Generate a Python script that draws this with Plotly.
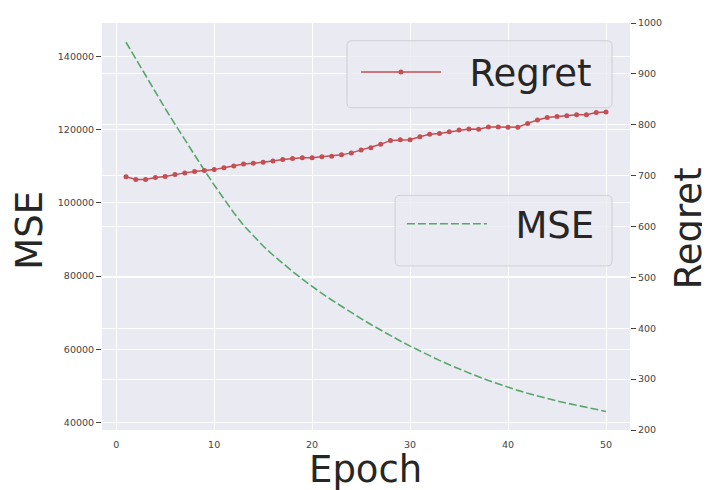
import plotly.graph_objects as go

epochs = list(range(1, 51))

mse = [143900, 139300, 134800, 130300, 125800, 121500, 117200, 113000, 108900, 104900,
       101000, 97300, 93900, 90900, 88200, 85750, 83450, 81250, 79150, 77150,
       75250, 73450, 71700, 70000, 68350, 66750, 65200, 63700, 62250, 60850,
       59500, 58200, 56950, 55750, 54600, 53500, 52450, 51450, 50500, 49600,
       48750, 47950, 47200, 46500, 45850, 45250, 44650, 44100, 43550, 43000]

regret = [697.7, 692.4, 692.4, 696.3, 698.3, 702.1, 705.4, 708.0, 709.9, 711.8,
          715.7, 719.0, 722.8, 724.2, 726.1, 728.6, 731.9, 733.8, 735.0, 735.0,
          737.0, 738.3, 740.8, 744.7, 750.5, 755.0, 761.5, 769.2, 770.5, 770.5,
          776.3, 781.4, 782.8, 786.0, 789.9, 791.8, 791.1, 795.7, 795.7, 795.0,
          795.0, 802.7, 809.3, 814.3, 816.2, 817.6, 819.5, 819.5, 824.0, 825.3]

x_ticks = [0, 10, 20, 30, 40, 50]
mse_ticks = [40000, 60000, 80000, 100000, 120000, 140000]
regret_ticks = [200, 300, 400, 500, 600, 700, 800, 900, 1000]

RED = "#C44E52"
GREEN = "#55A868"
BG = "#EAEAF2"
TXT = "#262626"
FONT = "DejaVu Sans"
NB = "\u00a0"

fig = go.Figure()
fig.add_trace(go.Scatter(
    x=epochs, y=mse, name=NB * 2 + "MSE" + NB, mode="lines",
    line=dict(color=GREEN, width=1.6, dash="8px,3px"),
    yaxis="y", legend="legend2"))
fig.add_trace(go.Scatter(
    x=epochs, y=regret, name=NB * 2 + "Regret" + NB, mode="lines+markers",
    line=dict(color=RED, width=1.5),
    marker=dict(color=RED, size=5),
    yaxis="y2", legend="legend"))

tickfont = dict(family=FONT, size=9.5, color="#444444")


def rounded_box(x0, y0, x1, y1, rx=0.0095, ry=0.0121):
    return (f"M{x0 + rx},{y0} L{x1 - rx},{y0} Q{x1},{y0} {x1},{y0 + ry} "
            f"L{x1},{y1 - ry} Q{x1},{y1} {x1 - rx},{y1} L{x0 + rx},{y1} "
            f"Q{x0},{y1} {x0},{y1 - ry} L{x0},{y0 + ry} Q{x0},{y0} {x0 + rx},{y0} Z")


box_style = dict(type="path", xref="paper", yref="paper", layer="above",
                 fillcolor="rgba(234,234,242,0.8)",
                 line=dict(color="rgba(204,204,210,0.9)", width=1))

legend_common = dict(xanchor="left", yanchor="top", bgcolor="rgba(0,0,0,0)",
                     borderwidth=0, itemwidth=80,
                     font=dict(family=FONT, size=37, color=TXT))

fig.update_layout(
    width=702, height=482,
    margin=dict(l=94, r=80, t=9, b=60),
    paper_bgcolor="white", plot_bgcolor=BG,
    font=dict(family=FONT, color=TXT),
    showlegend=True,
    xaxis=dict(range=[-1.45, 52.45], tickvals=x_ticks, showgrid=True,
               gridcolor="white", gridwidth=1.3, zeroline=False, showline=False,
               ticks="", ticklabelstandoff=7, tickfont=tickfont),
    yaxis=dict(range=[37926, 149157], tickvals=mse_ticks, tickformat="d",
               showgrid=True, gridcolor="white", gridwidth=1.3, zeroline=False,
               showline=False, ticks="outside", ticklen=5, tickcolor="#444444",
               tickwidth=1, tickfont=tickfont),
    yaxis2=dict(range=[200, 1000], tickvals=regret_ticks, overlaying="y",
                side="right", showgrid=True, gridcolor="white", gridwidth=1.3,
                zeroline=False, showline=False, ticks="outside", ticklen=5,
                tickcolor="#444444", tickwidth=1, tickfont=tickfont),
    legend=dict(x=0.481, y=0.9547, **legend_common),
    legend2=dict(x=0.568, y=0.5818, **legend_common),
    shapes=[
        dict(path=rounded_box(0.464, 0.7918, 0.966, 0.9564), **box_style),
        dict(path=rounded_box(0.555, 0.4031, 0.966, 0.5763), **box_style),
    ],
    annotations=[
        dict(text="Epoch", xref="paper", yref="paper", x=0.4995, y=-0.0969,
             xanchor="center", yanchor="middle", showarrow=False,
             font=dict(family=FONT, size=37, color=TXT)),
        dict(text="MSE", xref="paper", yref="paper", x=-0.1379, y=0.4903,
             xanchor="center", yanchor="middle", showarrow=False, textangle=-90,
             font=dict(family=FONT, size=37, color=TXT)),
        dict(text="Regret", xref="paper", yref="paper", x=1.1115, y=0.4952,
             xanchor="center", yanchor="middle", showarrow=False, textangle=-90,
             font=dict(family=FONT, size=37, color=TXT)),
    ],
)

fig.write_html("out.html")
